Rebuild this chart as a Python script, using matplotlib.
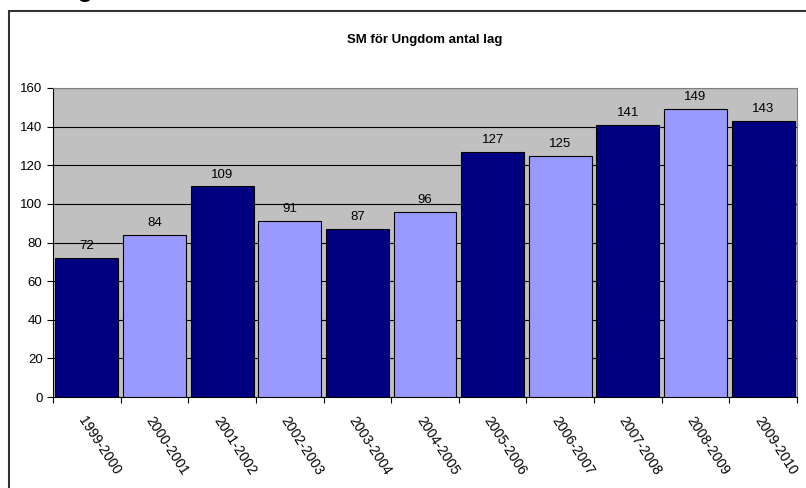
import matplotlib.pyplot as plt
import numpy as np
from matplotlib.patches import Rectangle

plt.rcParams['font.family'] = ['Liberation Sans', 'DejaVu Sans']

seasons = ["1999-2000", "2000-2001", "2001-2002", "2002-2003", "2003-2004", "2004-2005",
           "2005-2006", "2006-2007", "2007-2008", "2008-2009", "2009-2010"]
teams = [72, 84, 109, 91, 87, 96, 127, 125, 141, 149, 143]
bar_colors = ["#000080", "#9999FF"] * 6

W, H = 806, 488
fig = plt.figure(figsize=(W / 100, H / 100), dpi=100)

# outer chart frame
fig.patches.append(Rectangle((9 / W, -0.1), 1.0, (H - 11) / H + 0.1, transform=fig.transFigure,
                             fill=False, edgecolor="#333333", linewidth=1.5))
# heading above the frame, mostly cut off by the image edge
fig.text(0, 1 + 3 / H, "SM Ungdom", fontsize=18, fontweight="bold", va="baseline", ha="left")

ax = fig.add_axes([53 / W, 1 - 397 / H, (797 - 53) / W, (397 - 88) / H])
ax.set_facecolor("#C0C0C0")
x = np.arange(len(seasons))
ax.bar(x, teams, width=0.93, color=bar_colors[:len(seasons)], edgecolor="black", linewidth=0.8, zorder=3)
for xi, v in zip(x, teams):
    ax.text(xi, v + 3, str(v), ha="center", va="bottom", fontsize=9.5)

ax.set_xlim(-0.5, len(seasons) - 0.5)
ax.set_ylim(0, 160)
ax.set_yticks(range(0, 161, 20))
ax.yaxis.grid(True, color="black", linewidth=0.8, zorder=0)
ax.set_axisbelow(True)
ax.tick_params(axis="y", labelsize=9.5, length=4, direction="out")

ax.set_xticks(np.arange(-0.5, len(seasons) - 0.4, 1.0))
ax.set_xticklabels([])
ax.set_xticks(x, minor=True)
ax.set_xticklabels(seasons, minor=True, rotation=-57, ha="left", va="top", rotation_mode="anchor", fontsize=10)
ax.tick_params(axis="x", which="major", length=4, direction="out")
ax.tick_params(axis="x", which="minor", length=0, pad=12)

for s in ["top", "right"]:
    ax.spines[s].set_color("#808080")
for s in ["left", "bottom"]:
    ax.spines[s].set_color("black")

fig.text(425 / W, 1 - 40 / H, "SM för Ungdom antal lag", ha="center", va="center",
         fontsize=9.5, fontweight="bold")

fig.savefig("out.png", dpi=100)
